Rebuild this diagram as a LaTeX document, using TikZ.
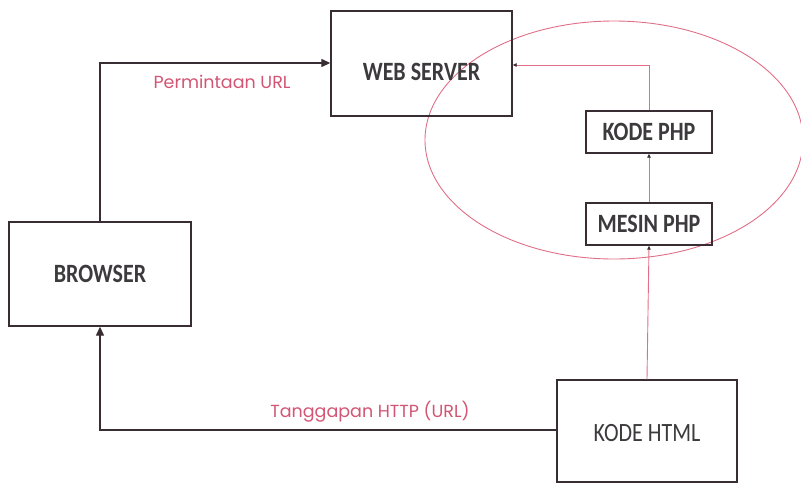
\documentclass[tikz,border=0pt]{standalone}
\usepackage{fontspec}
\setmainfont{Carlito}
\newfontfamily\lblfont{Poppins}
\usetikzlibrary{arrows.meta,shapes.geometric}
\definecolor{boxline}{RGB}{55,45,50}
\definecolor{txtgray}{RGB}{60,58,60}
\definecolor{pinkline}{RGB}{225,110,135}
\definecolor{lbltxt}{RGB}{210,85,115}
\newcommand{\tallbox}[1]{\scalebox{1}[1.2]{#1}}
\tikzset{
  boxnode/.style={draw=boxline, line width=1.4pt, inner sep=0pt},
  boldtxt/.style={text=txtgray, font=\fontsize{22}{24}\selectfont\bfseries, inner sep=0pt},
  regtxt/.style={text=txtgray, font=\fontsize{22}{24}\selectfont, inner sep=0pt},
  conn/.style={draw=boxline, line width=1.3pt},
  pinkconn/.style={draw=pinkline, line width=0.9pt},
  bigtip/.style={-{Triangle[length=9pt,width=8pt]}},
  smalltip/.style={-{Triangle[length=4pt,width=3.5pt,color=boxline]}},
  lbl/.style={text=lbltxt, font=\lblfont\fontsize{17.5}{19}\selectfont, inner sep=0pt}
}
\begin{document}
\begin{tikzpicture}[x=1pt,y=-1pt]
\useasboundingbox (0,0) rectangle (801,483);
% ellipse
\node[draw=pinkline, line width=0.9pt, ellipse, minimum width=378pt, minimum height=238pt, inner sep=0pt] (zone) at (614,140) {};
% boxes
\node[boxnode, minimum width=181pt, minimum height=105pt] (web) at (421.5,63.5) {};
\node[boldtxt] (webtxt) at (421.5,72) {\tallbox{WEB SERVER}};
\node[boxnode, minimum width=182pt, minimum height=104pt, boldtxt] (browser) at (100,274) {\tallbox{BROWSER}};
\node[boxnode, minimum width=126pt, minimum height=42pt, boldtxt] (kphp) at (649,132) {\tallbox{KODE PHP}};
\node[boxnode, minimum width=126pt, minimum height=42pt, boldtxt] (mphp) at (649,224) {\tallbox{MESIN PHP}};
\node[boxnode, minimum width=180pt, minimum height=102pt] (html) at (647,431) {};
\node[regtxt] (htmltxt) at (647,433) {\tallbox{KODE HTML}};
% connectors
\coordinate (c1) at (100,63);
\draw[conn, bigtip] (browser.north) -- (c1) -- (web.west |- c1);
\coordinate (c2) at (100,430);
\draw[conn, bigtip] (html.west |- c2) -- (c2) -- (browser.south);
\coordinate (c3) at (649,65);
\draw[pinkconn, smalltip] (kphp.north) -- (c3) -- (web.east |- c3);
\draw[pinkconn, smalltip] (mphp.north) -- (kphp.south);
\draw[pinkconn, smalltip] (html.north) -- (mphp.south);
% labels
\node[lbl] (l1) at (222,82) {Permintaan URL};
\node[lbl] (l2) at (370,412) {Tanggapan HTTP (URL)};
\end{tikzpicture}
\end{document}
